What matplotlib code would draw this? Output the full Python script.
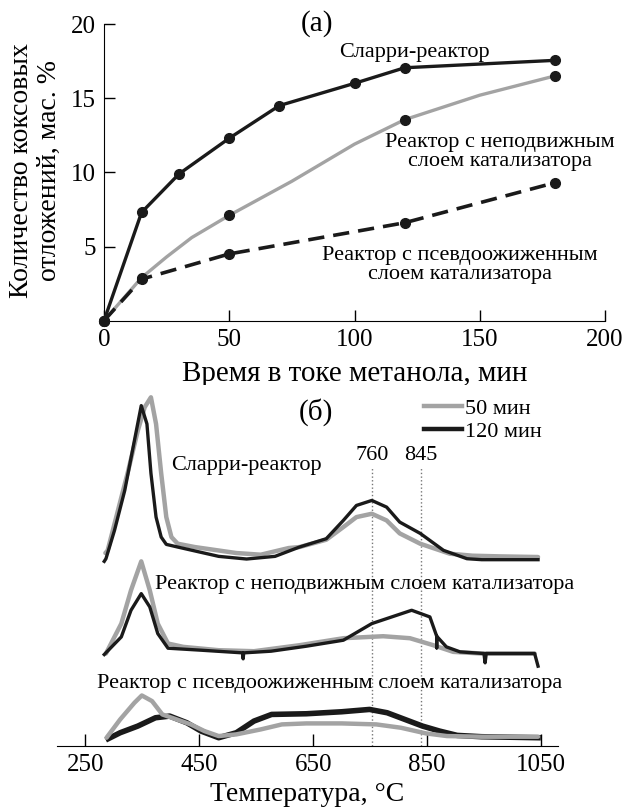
import numpy as np
import matplotlib
matplotlib.use("Agg")
import matplotlib.pyplot as plt
from matplotlib.lines import Line2D

plt.rcParams['font.family'] = ['Liberation Serif', 'DejaVu Serif']

# (a) coke amount vs time on stream
slurry_t = [0, 15, 30, 50, 70, 100, 120, 180]
slurry = [0, 7.3, 9.9, 12.3, 14.5, 16.0, 17.05, 17.55]
fixed_t = [0, 15, 50, 120, 180]
fixed = [0, 2.9, 7.1, 13.55, 16.5]
fixed_curve_t = [0, 15, 25, 35, 50, 75, 100, 120, 150, 180]
fixed_curve = [0, 2.9, 4.3, 5.6, 7.1, 9.4, 11.9, 13.55, 15.2, 16.5]
fluid_t = [0, 15, 50, 120, 180]
fluid = [0, 2.8, 4.5, 6.6, 9.3]

# (b) TPO profiles, arbitrary units, stacked
sl50_T = [285, 289, 324, 342, 354, 365, 374, 383, 392, 401, 412, 442, 515, 558, 607, 626, 673, 703, 726, 753, 779, 802, 838, 890, 930, 977, 1045]
sl50 = [5.8, 5.88, 8.2, 9.48, 10.18, 10.48, 9.68, 8.2, 6.88, 6.28, 6.08, 5.98, 5.8, 5.75, 5.95, 5.98, 6.2, 6.58, 6.88, 6.98, 6.78, 6.39, 6.08, 5.78, 5.72, 5.7, 5.68]
sl120_T = [283, 286, 301, 319, 336, 348, 358, 365, 374, 383, 392, 412, 484, 533, 583, 626, 673, 703, 726, 753, 779, 802, 838, 879, 920, 946, 1045]
sl120 = [5.55, 5.63, 6.48, 7.68, 9.18, 10.23, 9.68, 8.2, 6.88, 6.28, 6.06, 5.98, 5.7, 5.62, 5.7, 5.98, 6.23, 6.78, 7.23, 7.38, 7.18, 6.73, 6.39, 5.88, 5.63, 5.6, 5.6]
fb50_T = [286, 313, 330, 348, 363, 377, 395, 422, 484, 546, 626, 703, 773, 820, 861, 896, 946, 1039]
fb50 = [2.78, 3.68, 4.68, 5.55, 4.68, 3.68, 3.08, 2.98, 2.88, 2.85, 3.03, 3.24, 3.3, 3.24, 3.03, 2.83, 2.78, 2.78]
fb120_T = [283, 313, 330, 348, 363, 377, 395, 453, 526, 527, 528, 576, 638, 703, 753, 823, 855, 867, 867, 867, 884, 908, 950, 952, 954, 1039, 1045]
fb120 = [2.75, 3.28, 4.08, 4.58, 4.18, 3.38, 2.94, 2.88, 2.8, 2.62, 2.8, 2.85, 3.0, 3.18, 3.68, 4.08, 3.88, 3.3, 2.95, 3.3, 2.98, 2.83, 2.78, 2.5, 2.78, 2.78, 2.4]
fl50_T = [287, 311, 336, 349, 367, 385, 410, 435, 459, 484, 515, 558, 595, 638, 700, 761, 804, 848, 885, 946, 1045]
fl50 = [0.25, 0.8, 1.3, 1.52, 1.35, 0.95, 0.8, 0.65, 0.45, 0.3, 0.35, 0.5, 0.65, 0.68, 0.68, 0.65, 0.55, 0.38, 0.3, 0.28, 0.28]
fl120_T = [290, 311, 342, 373, 398, 428, 453, 484, 515, 546, 577, 638, 700, 749, 780, 811, 842, 872, 903, 946, 1045]
fl120 = [0.22, 0.4, 0.6, 0.85, 0.9, 0.7, 0.45, 0.25, 0.4, 0.75, 0.95, 0.97, 1.03, 1.1, 1.0, 0.8, 0.6, 0.45, 0.32, 0.28, 0.25]
marks_T = [753, 839]
marks_lbl = ['760', '845']

GRAY = '#a3a3a3'
BLACK = '#1a1a1a'

fig = plt.figure(figsize=(6.27, 8.11), dpi=100)

# ---------- panel (a)
ax = fig.add_axes([0.1659, 0.6046, 0.7990, 0.3658])
ax.plot(fixed_curve_t, fixed_curve, color=GRAY, lw=2.4, zorder=2)
ax.plot(fixed_t, fixed, 'o', color=BLACK, ms=7, zorder=4, clip_on=False)
ax.plot(fluid_t, fluid, '--', color=BLACK, lw=2.6, dashes=(4.5, 2.5), marker='o', ms=7, zorder=3, clip_on=False)
ax.plot(slurry_t, slurry, '-', color=BLACK, lw=2.4, marker='o', ms=7, zorder=3, clip_on=False)
ax.set_xlim(0, 200)
ax.set_ylim(0, 20)
ax.set_xticks([0, 50, 100, 150, 200])
ax.set_yticks([5, 10, 15, 20])
for s in ['top', 'right']:
    ax.spines[s].set_visible(False)
ax.tick_params(direction='in', length=8, width=1, labelsize=18, pad=6)
ax.set_xlabel('Время в токе метанола, мин', fontsize=21, labelpad=7)
ax.set_ylabel('Количество коксовых\nотложений, мас. %', fontsize=20, linespacing=1.15)
ax.yaxis.set_label_coords(-0.084, 0.505)
ax.text(85, 20, '(а)', fontsize=21, ha='center', va='center')
ax.text(124, 18.1, 'Сларри-реактор', fontsize=16, ha='center', va='center')
ax.text(158, 11.4, 'Реактор с неподвижным\nслоем катализатора', fontsize=16, ha='center', va='center', linespacing=1.0)
ax.text(142, 3.75, 'Реактор с псевдоожиженным\nслоем катализатора', fontsize=16, ha='center', va='center', linespacing=1.0)

# ---------- panel (b)
bx = fig.add_axes([0.0909, 0.0801, 0.7990, 0.4452])
for m, lbl in zip(marks_T, marks_lbl):
    bx.plot([m, m], [0, 8.35], ':', color='#777777', lw=1)
    bx.text(m, 8.72, lbl, fontsize=16, ha='center', va='center')
bx.plot(sl50_T, sl50, color=GRAY, lw=3.2, solid_capstyle='round')
bx.plot(sl120_T, sl120, color=BLACK, lw=2.4)
bx.plot(fb50_T, fb50, color=GRAY, lw=3.2, solid_capstyle='round')
bx.plot(fb120_T, fb120, color=BLACK, lw=2.4)
bx.plot(fl120_T, fl120, color=BLACK, lw=4.0)
bx.plot(fl50_T, fl50, color=GRAY, lw=3.2, solid_capstyle='round')
bx.set_xlim(200, 1080)
bx.set_ylim(0, 10.85)
bx.set_xticks([250, 450, 650, 850, 1050])
bx.set_yticks([])
for s in ['top', 'right', 'left']:
    bx.spines[s].set_visible(False)
bx.tick_params(direction='in', length=9, width=1, labelsize=18, pad=6)
bx.set_xlabel('Температура, °C', fontsize=20, labelpad=4)
bx.text(655, 10.05, '(б)', fontsize=21, ha='center', va='center')
bx.text(401, 8.42, 'Сларри-реактор', fontsize=16, ha='left', va='center')
bx.text(372, 4.85, 'Реактор с неподвижным слоем катализатора', fontsize=16, ha='left', va='center')
bx.text(271, 1.88, 'Реактор с псевдоожиженным слоем катализатора', fontsize=16, ha='left', va='center')
handles = [Line2D([], [], color=GRAY, lw=3.2), Line2D([], [], color=BLACK, lw=3.2)]
bx.legend(handles, ['50 мин', '120 мин'], loc='upper left', bbox_to_anchor=((845 - 200) / 880, 10.45 / 10.85),
          frameon=False, fontsize=16, handlelength=1.7, handletextpad=0.15, labelspacing=0.1,
          borderpad=0, borderaxespad=0)

fig.savefig('out.png', dpi=100)
